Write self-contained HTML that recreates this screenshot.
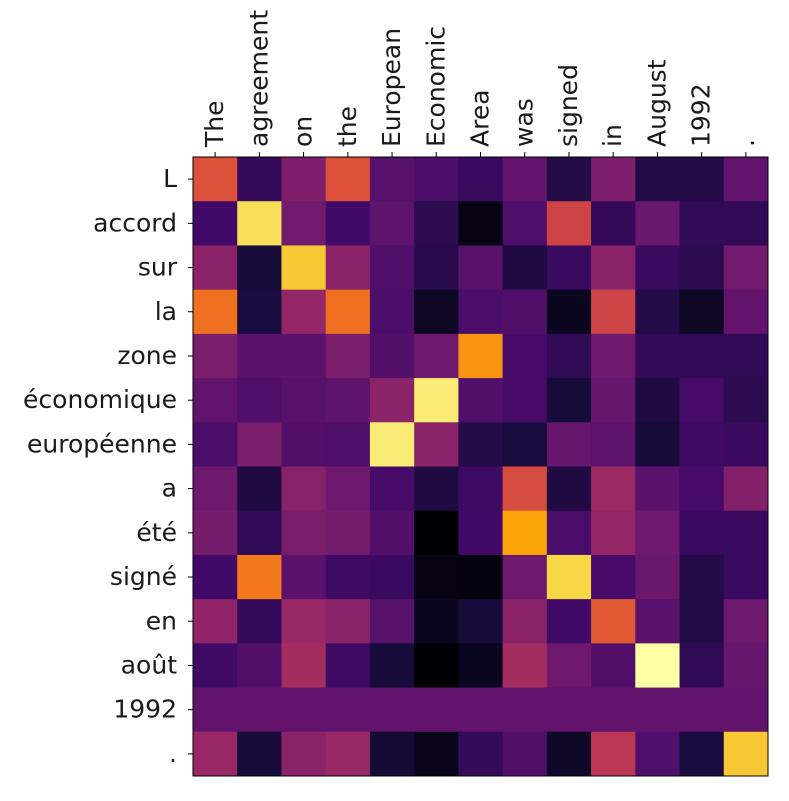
<!DOCTYPE html>
<html><head><meta charset="utf-8"><style>
body{margin:0;background:#fff;}
svg text{font-family:"DejaVu Sans","Liberation Sans",sans-serif;font-size:25px;fill:#1a1a1a;}
</style></head><body>
<svg id="chart" width="789" height="796"></svg>
<script>
const xLabels=["The","agreement","on","the","European","Economic","Area","was","signed","in","August","1992","."];
const yLabels=["L","accord","sur","la","zone","économique","européenne","a","été","signé","en","août","1992","."];
const row0=[0.6,0.17,0.35,0.6,0.25,0.22,0.18,0.28,0.13,0.35,0.13,0.13,0.28];
const row1=[0.2,0.92,0.32,0.2,0.27,0.15,0.03,0.23,0.55,0.17,0.3,0.16,0.16];
const row2=[0.38,0.1,0.87,0.38,0.23,0.14,0.25,0.12,0.18,0.38,0.18,0.15,0.32];
const row3=[0.68,0.11,0.4,0.68,0.22,0.06,0.22,0.24,0.05,0.55,0.13,0.06,0.28];
const row4=[0.34,0.26,0.26,0.34,0.24,0.31,0.76,0.21,0.16,0.31,0.17,0.16,0.16];
const row5=[0.28,0.23,0.25,0.27,0.38,0.95,0.24,0.21,0.1,0.29,0.12,0.21,0.15];
const row6=[0.22,0.34,0.24,0.23,0.95,0.38,0.13,0.11,0.29,0.27,0.1,0.19,0.18];
const row7=[0.31,0.12,0.37,0.31,0.21,0.12,0.19,0.58,0.12,0.42,0.26,0.21,0.36];
const row8=[0.33,0.16,0.34,0.33,0.24,0.0,0.2,0.8,0.22,0.4,0.31,0.18,0.18];
const row9=[0.2,0.7,0.26,0.19,0.18,0.03,0.02,0.31,0.9,0.21,0.3,0.13,0.18];
const row10=[0.39,0.17,0.41,0.38,0.25,0.05,0.1,0.38,0.2,0.62,0.26,0.13,0.31];
const row11=[0.19,0.24,0.44,0.19,0.1,0.0,0.05,0.44,0.31,0.24,1.0,0.16,0.29];
const row12=[0.28,0.28,0.28,0.28,0.28,0.28,0.28,0.28,0.28,0.28,0.28,0.28,0.28];
const row13=[0.41,0.1,0.38,0.41,0.09,0.04,0.17,0.24,0.07,0.5,0.23,0.11,0.87];
const values=[row0,row1,row2,row3,row4,row5,row6,row7,row8,row9,row10,row11,row12,row13];

const stops=[[0,0,4],[22,11,57],[66,10,104],[106,23,110],[147,38,103],[188,55,84],[221,81,58],[243,120,25],[252,165,10],[246,215,70],[252,255,164]];
function inferno(t){t=Math.max(0,Math.min(1,t));const p=t*10,i=Math.min(9,Math.floor(p)),f=p-i;
const a=stops[i],b=stops[i+1];return `rgb(${a.map((v,k)=>Math.round(v+(b[k]-v)*f)).join(',')})`;}
const L=193,R=768,T=157,B=776;
const cw=(R-L)/xLabels.length,ch=(B-T)/yLabels.length;
const xPos=i=>L+i*cw, yPos=j=>T+j*ch;
const svg=document.getElementById('chart');const NS='http://www.w3.org/2000/svg';
function mk(tag,attrs){const e=document.createElementNS(NS,tag);for(const k in attrs)e.setAttribute(k,attrs[k]);svg.appendChild(e);return e;}
values.forEach((row,j)=>row.forEach((v,i)=>{
const r=mk('rect',{x:xPos(i),y:yPos(j),width:cw+0.5,height:ch+0.5,fill:inferno(v)});


}));
const fr=mk('rect',{x:L,y:T,width:R-L,height:B-T,fill:'none',stroke:'#000','stroke-width':1});


xLabels.forEach((s,i)=>{
const cx=xPos(i)+cw/2;
mk('line',{x1:cx,y1:T,x2:cx,y2:T-5,stroke:'#000'});
const t=mk('text',{x:0,y:0,transform:`translate(${cx+8},${T-10}) rotate(-90)`});
t.textContent=s;


});
yLabels.forEach((s,j)=>{
const cy=yPos(j)+ch/2;
mk('line',{x1:L,y1:cy,x2:L-5,y2:cy,stroke:'#000'});
const t=mk('text',{x:L-16,y:cy+8,'text-anchor':'end'});
t.textContent=s;


});
</script>
</body></html>
